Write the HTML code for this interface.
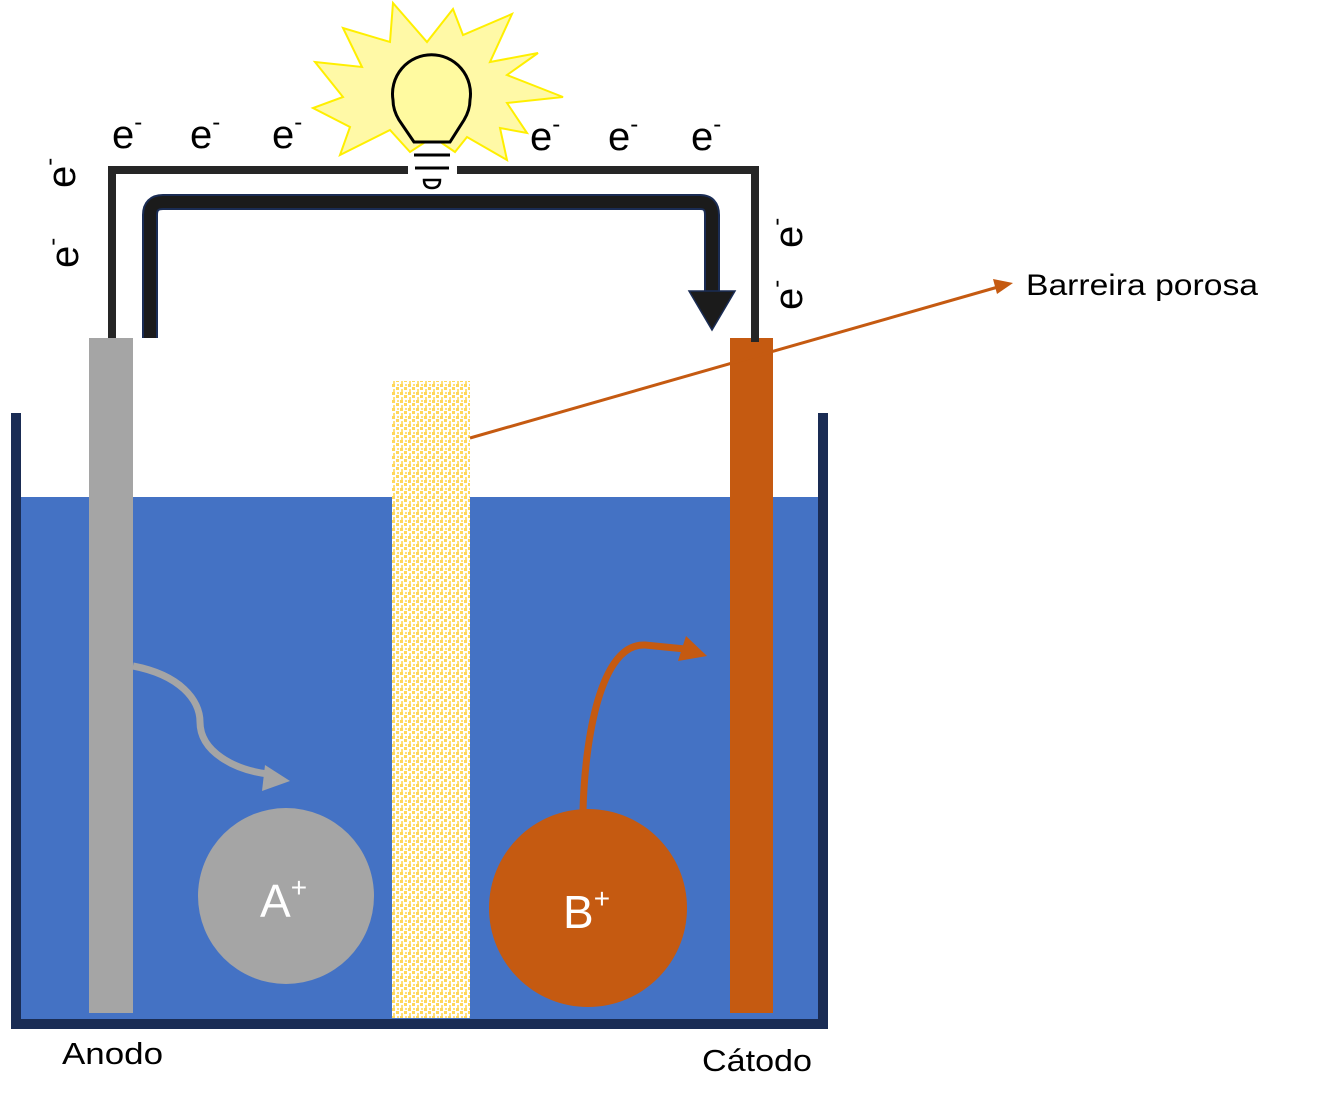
<!DOCTYPE html>
<html><head><meta charset="utf-8"><style>
html,body{margin:0;padding:0;background:#fff;}
svg{display:block;}
text{font-family:"Liberation Sans","DejaVu Sans",sans-serif;}
</style></head><body>
<svg width="1324" height="1105" viewBox="0 0 1324 1105" xmlns="http://www.w3.org/2000/svg">
<defs>
<pattern id="dots" width="8" height="8" patternUnits="userSpaceOnUse">
<rect width="8" height="8" fill="#fff"/>
<rect x="0" y="0" width="3" height="3" fill="#ffd75a"/>
<rect x="4" y="3" width="3" height="3" fill="#ffd75a"/>
<rect x="1" y="5" width="2" height="3" fill="#ffe07a"/>
<rect x="5" y="0" width="2" height="2" fill="#ffe07a"/>
</pattern>
</defs>
<rect x="21" y="497" width="797" height="523" fill="#4472c4"/>
<path d="M16,413 V1024 H823 V413" fill="none" stroke="#1a2c54" stroke-width="10"/>
<rect x="392" y="381" width="78" height="637" fill="url(#dots)"/>
<rect x="89" y="338" width="44" height="675" fill="#a5a5a5"/>
<rect x="730" y="338" width="43" height="675" fill="#c55a11"/>
<path d="M112,338 V170 H408" fill="none" stroke="#262626" stroke-width="8"/>
<path d="M457,170 H755 V342" fill="none" stroke="#262626" stroke-width="8"/>
<path d="M150,338 V215 Q150,202 163,202 H700 Q712,202 712,215 V292" fill="none" stroke="#1a2c54" stroke-width="16"/>
<path d="M150,338 V215 Q150,202 163,202 H700 Q712,202 712,215 V292" fill="none" stroke="#1b1b1b" stroke-width="12"/>
<polygon points="689,291 735,291 712,330" fill="#1b1b1b" stroke="#1a2c54" stroke-width="1.5"/>
<polygon points="393,3 427,42 453,9 463,35 512,14 490,62 538,53 507,75 563,97 507,103 527,133 500,128 507,160 467,137 455,152 433,137 410,152 390,130 340,155 350,127 313,108 343,97 315,62 362,67 343,28 390,42" fill="#fff9a6" stroke="#ffef00" stroke-width="2"/>
<path d="M414,142 L399,120 Q393,110 393,100 A39,39 0 1 1 470,100 Q470,110 464,120 L450,142 Z" fill="#fffaa0" stroke="#000" stroke-width="3"/>
<line x1="414" y1="155" x2="450" y2="155" stroke="#000" stroke-width="3"/>
<line x1="415" y1="168" x2="449" y2="168" stroke="#000" stroke-width="3"/>
<path d="M424,180 H440 Q440,188 432,188 Q424,188 424,180 Z" fill="none" stroke="#000" stroke-width="2.5"/>
<g font-size="40" fill="#000">
<text x="112" y="148">e<tspan font-size="24" dy="-18">-</tspan></text>
<text x="190" y="148">e<tspan font-size="24" dy="-18">-</tspan></text>
<text x="272" y="148">e<tspan font-size="24" dy="-18">-</tspan></text>
<text x="530" y="150">e<tspan font-size="24" dy="-18">-</tspan></text>
<text x="608" y="150">e<tspan font-size="24" dy="-18">-</tspan></text>
<text x="691" y="150">e<tspan font-size="24" dy="-18">-</tspan></text>
<text transform="translate(75,188) rotate(-90)">e<tspan font-size="24" dy="-18">-</tspan></text>
<text transform="translate(78,268) rotate(-90)">e<tspan font-size="24" dy="-18">-</tspan></text>
<text transform="translate(802,248) rotate(-90)">e<tspan font-size="24" dy="-18">-</tspan></text>
<text transform="translate(802,310) rotate(-90)">e<tspan font-size="24" dy="-18">-</tspan></text>
</g>
<line x1="470" y1="438" x2="998" y2="287" stroke="#c55a11" stroke-width="3"/>
<polygon points="1013,283 993,279 997,294" fill="#c55a11"/>
<text x="1026" y="295" font-size="30" fill="#000" textLength="232" lengthAdjust="spacingAndGlyphs">Barreira porosa</text>
<path d="M133,666 C180,675 200,700 200,722 C200,752 235,770 268,774" fill="none" stroke="#a5a5a5" stroke-width="7"/>
<polygon points="265,765 290,781 262,791" fill="#a5a5a5"/>
<path d="M583,810 C585,740 600,643 645,645 L685,649" fill="none" stroke="#c55a11" stroke-width="7"/>
<polygon points="686,636 707,656 678,661" fill="#c55a11"/>
<circle cx="286" cy="896" r="88" fill="#a5a5a5"/>
<circle cx="588" cy="908" r="99" fill="#c55a11"/>
<text x="260" y="917" font-size="46" fill="#fff">A<tspan font-size="28" dy="-20">+</tspan></text>
<text x="563" y="928" font-size="46" fill="#fff">B<tspan font-size="28" dy="-20">+</tspan></text>
<text x="62" y="1064" font-size="31" fill="#000" textLength="101" lengthAdjust="spacingAndGlyphs">Anodo</text>
<text x="702" y="1071" font-size="31" fill="#000" textLength="110" lengthAdjust="spacingAndGlyphs">Cátodo</text>
</svg>
</body></html>
